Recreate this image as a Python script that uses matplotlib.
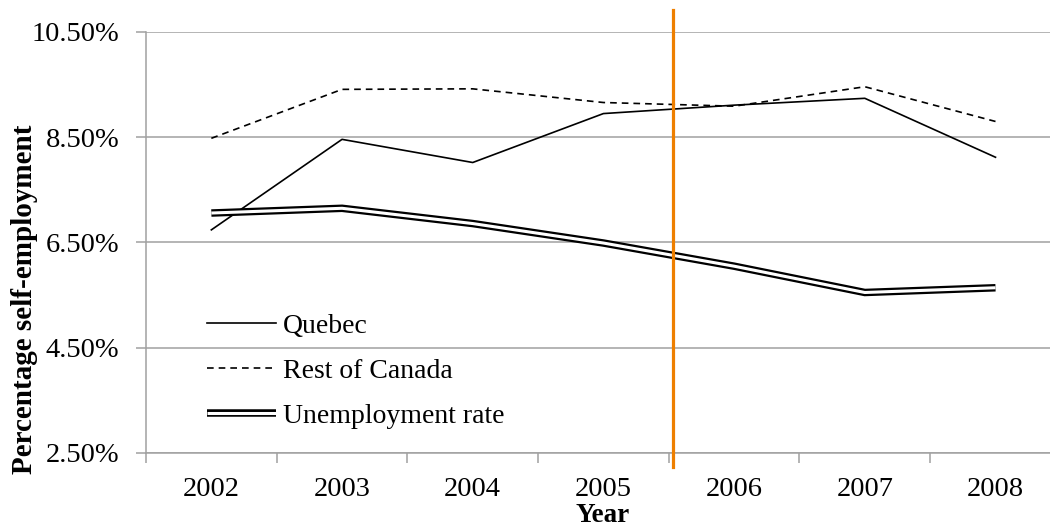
import matplotlib
matplotlib.use("Agg")
import matplotlib.pyplot as plt
from matplotlib.ticker import FixedLocator, FuncFormatter

# Data (percent)
years = ["2002", "2003", "2004", "2005", "2006", "2007", "2008"]
quebec = [6.74, 8.46, 8.02, 8.95, 9.11, 9.24, 8.12]
rest_of_canada = [8.48, 9.41, 9.42, 9.16, 9.09, 9.46, 8.80]
unemployment = [7.06, 7.15, 6.86, 6.49, 6.05, 5.55, 5.64]
y_ticks = [2.5, 4.5, 6.5, 8.5, 10.5]
policy_break = 3.53  # orange marker between 2005 and 2006

plt.rcParams["font.family"] = ["Liberation Serif", "DejaVu Serif"]

fig = plt.figure(figsize=(10.5, 5.29), dpi=100)
ax = fig.add_axes([146 / 1050, 76 / 529, 904 / 1050, 421 / 529])

x = list(range(len(years)))
grid_col = "#a0a0a0"

ax.plot(x, quebec, color="black", lw=1.2, label="Quebec", zorder=3)
ax.plot(x, rest_of_canada, color="black", lw=1.2, linestyle=(0, (4, 3)),
        label="Rest of Canada", zorder=3)
outer, = ax.plot(x, unemployment, color="black", lw=5.4, zorder=3,
                 solid_joinstyle="miter", solid_capstyle="butt")
inner, = ax.plot(x, unemployment, color="white", lw=2.2, zorder=4,
                 solid_joinstyle="miter", solid_capstyle="butt")

ax.axvline(policy_break, ymin=-0.033, ymax=1.052, color="#ee7f00", lw=2.3,
           clip_on=False, zorder=5)

ax.yaxis.set_major_locator(FixedLocator(y_ticks))
ax.yaxis.set_major_formatter(FuncFormatter(lambda v, _: f"{v:.2f}%"))
ax.grid(True, axis="y", color=grid_col, lw=1.1)
ax.set_axisbelow(True)

ax.set_xticks(x)
ax.set_xticklabels(years)
ax.set_xticks([i - 0.5 for i in range(len(years) + 1)], minor=True)
ax.tick_params(axis="x", which="major", length=0, pad=17, labelsize=20.5)
ax.tick_params(axis="x", which="minor", length=7, width=1.1, color=grid_col)
ax.tick_params(axis="y", length=7, width=1.1, color=grid_col, pad=12,
               labelsize=20.5)
ax.set_ylim(2.5, 10.5)
ax.set_xlim(-0.5, 6.417)

for side in ("top", "right"):
    ax.spines[side].set_visible(False)
for side in ("left", "bottom"):
    ax.spines[side].set_color(grid_col)
    ax.spines[side].set_linewidth(1.1)

handles, labels = ax.get_legend_handles_labels()
handles.append((outer, inner))
labels.append("Unemployment rate")
ax.legend(handles, labels, loc="center left",
          bbox_to_anchor=(61 / 904, (453 - 371) / 421),
          frameon=False, fontsize=20, handlelength=2.48, handletextpad=0.25,
          labelspacing=0.7, borderpad=0, borderaxespad=0)

fig.text(25 / 1050, 1 - 299 / 529, "Percentage self-employment",
         rotation=90, ha="center", va="center", fontsize=21,
         fontweight="bold")
fig.text(603 / 1050, 1 / 529, "Year", ha="center", va="bottom",
         fontsize=19.5, fontweight="bold")

fig.savefig("out.png", dpi=100)
